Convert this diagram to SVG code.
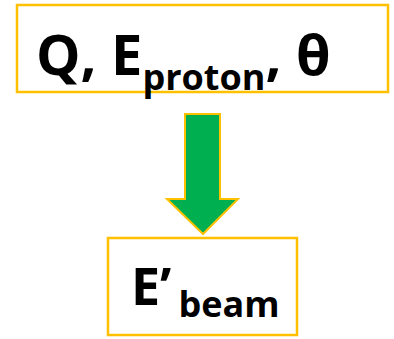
<svg xmlns="http://www.w3.org/2000/svg" width="394" height="339" viewBox="0 0 394 339">
<style>
.box{fill:#fff;stroke:#FFC000;stroke-width:2.5}
.t{font-family:"Open Sans","Noto Sans",sans-serif;font-weight:bold;fill:#000}
</style>
<rect width="394" height="339" fill="#fff"/>
<g id="node-inputs">
<rect class="box" x="17" y="5" width="371" height="87"/>
<text class="t" x="36" y="75" font-size="56">Q, E<tspan font-size="36" dy="15">proton</tspan><tspan dy="-15">, θ</tspan></text>
</g>
<g id="connectors">
<polygon points="185,114 220,114 220,199 238,199 203,234 167,199 185,199" fill="#00B050" stroke="#FFC000" stroke-width="2"/>
</g>
<g id="node-output">
<rect class="box" x="108" y="238" width="189" height="97"/>
<text class="t" x="131" y="305" font-size="52">E’<tspan font-size="36" dx="7" dy="12">beam</tspan></text>
</g>
</svg>
